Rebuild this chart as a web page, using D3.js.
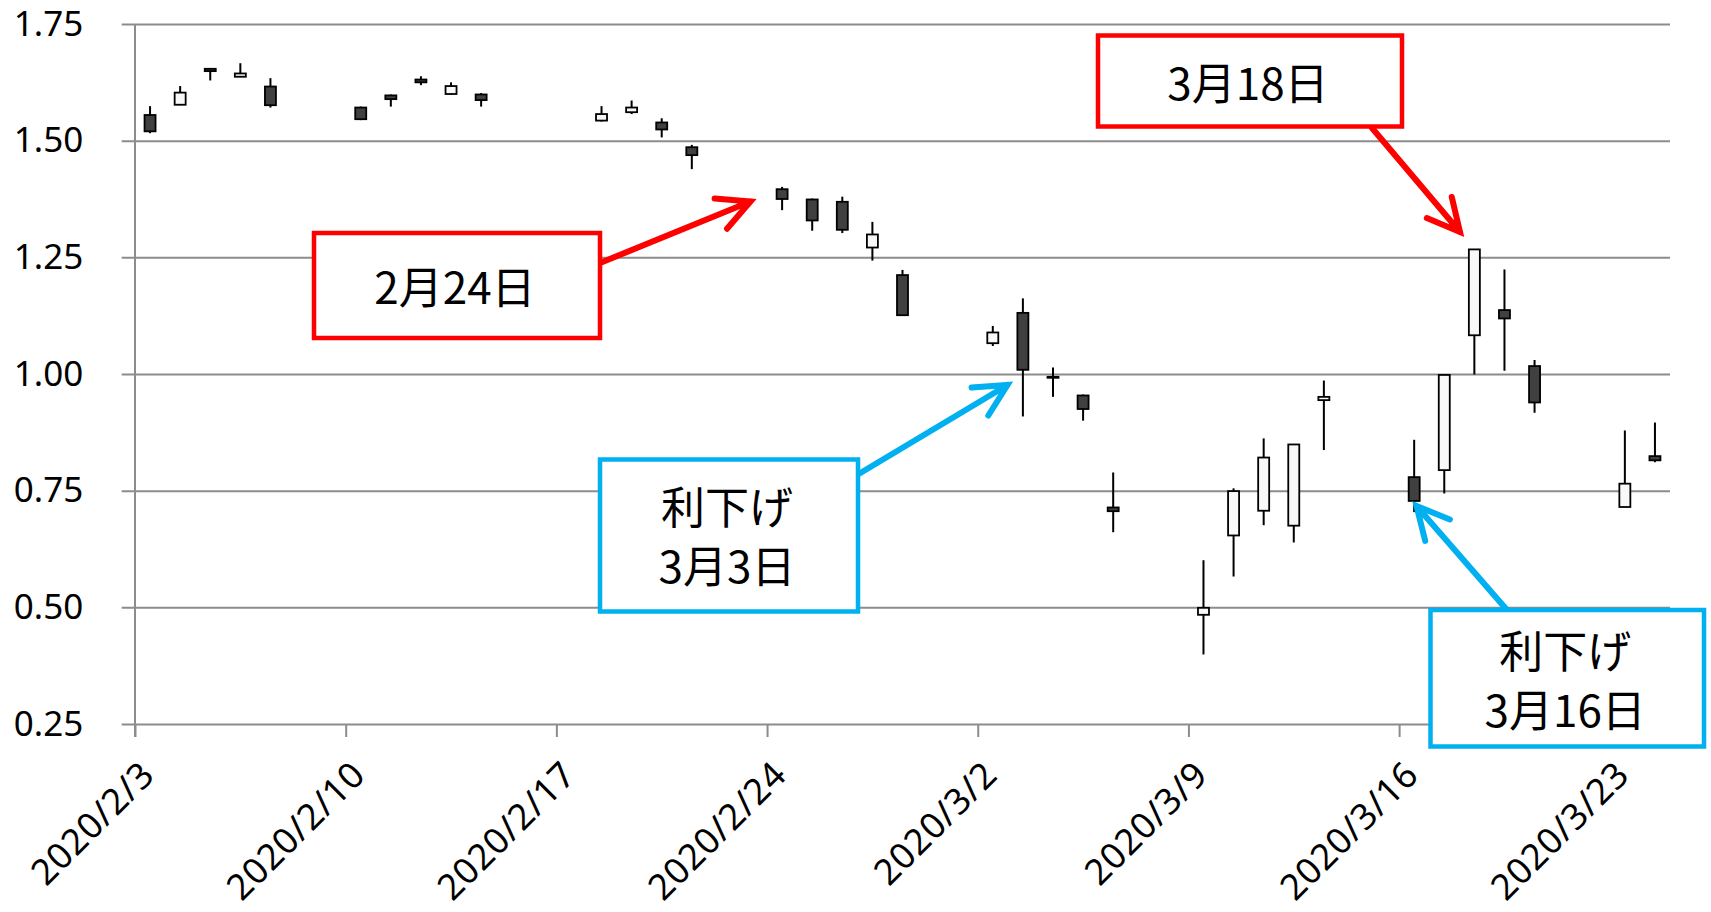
<!DOCTYPE html>
<html>
<head>
<meta charset="utf-8">
<script src="https://d3js.org/d3.v7.min.js"></script>
<style>
  html, body { margin: 0; padding: 0; background: #fff; }
  svg { display: block; }
</style>
</head>
<body>
<div id="chart"></div>
<script>
// trading days (UTC dates)
const dates = [
  "2020-02-03","2020-02-04","2020-02-05","2020-02-06","2020-02-07",
  "2020-02-10","2020-02-11","2020-02-12","2020-02-13","2020-02-14",
  "2020-02-18","2020-02-19","2020-02-20","2020-02-21",
  "2020-02-24","2020-02-25","2020-02-26","2020-02-27","2020-02-28",
  "2020-03-02","2020-03-03","2020-03-04","2020-03-05","2020-03-06",
  "2020-03-09","2020-03-10","2020-03-11","2020-03-12","2020-03-13",
  "2020-03-16","2020-03-17","2020-03-18","2020-03-19","2020-03-20",
  "2020-03-23","2020-03-24"
];
const opens = [
  1.555,1.577,1.654,1.637,1.616,
  1.571,1.597,1.631,1.600,1.599,
  1.543,1.561,1.539,1.486,
  1.396,1.374,1.369,1.271,1.212,
  1.066,1.131,0.994,0.954,0.714,
  0.484,0.654,0.707,0.675,0.944,
  0.779,0.794,1.083,1.137,1.017,
  0.715,0.824
];
const highs = [
  1.574,1.617,1.655,1.666,1.634,
  1.573,1.599,1.638,1.625,1.602,
  1.574,1.586,1.548,1.491,
  1.401,1.376,1.380,1.326,1.223,
  1.103,1.162,1.014,0.956,0.789,
  0.601,0.755,0.862,0.849,0.986,
  0.859,0.998,1.267,1.224,1.030,
  0.879,0.896
];
const lows = [
  1.516,1.576,1.629,1.636,1.571,
  1.544,1.573,1.619,1.599,1.573,
  1.541,1.557,1.507,1.439,
  1.351,1.307,1.302,1.243,1.126,
  1.060,0.909,0.951,0.900,0.661,
  0.399,0.566,0.676,0.639,0.837,
  0.704,0.744,0.999,1.007,0.917,
  0.715,0.811
];
const closes = [
  1.520,1.603,1.649,1.644,1.576,
  1.546,1.589,1.625,1.617,1.587,
  1.557,1.571,1.524,1.469,
  1.375,1.329,1.309,1.299,1.126,
  1.089,1.009,0.992,0.925,0.706,
  0.499,0.749,0.821,0.849,0.951,
  0.728,0.998,1.267,1.119,0.939,
  0.765,0.815
];

const yTicks = [0.25, 0.50, 0.75, 1.00, 1.25, 1.50, 1.75];
const xTickDates = ["2020-02-03","2020-02-10","2020-02-17","2020-02-24","2020-03-02","2020-03-09","2020-03-16","2020-03-23"];
const xDomain = ["2020-02-03","2020-03-25"];

// callout boxes and arrows (pixel layout)
const notes = [
  { lines: ["2月24日"], color: "#ff0000", box: [314, 233, 600, 338], base: 304,
    from: [600, 263], to: [750.5, 201.5] },
  { lines: ["3月18日"], color: "#ff0000", box: [1098, 35.5, 1402, 126.5], base: 100,
    from: [1372, 128], to: [1460, 232] },
  { lines: ["利下げ", "3月3日"], color: "#00b0f0", box: [600, 459.5, 858, 611.5], base: 524,
    from: [857, 475], to: [1007.5, 385] },
  { lines: ["利下げ", "3月16日"], color: "#00b0f0", box: [1430.5, 610, 1704, 746.5], base: 668,
    from: [1507, 610], to: [1416.5, 506] }
];

const parse = d3.utcParse("%Y-%m-%d");
const data = dates.map((d, i) => ({
  date: parse(d), open: opens[i], high: highs[i], low: lows[i], close: closes[i]
}));

const W = 1711, H = 912;
const plot = { left: 135, right: 1670, top: 24, bottom: 724 };

const svg = d3.select("#chart").append("svg")
  .attr("width", W).attr("height", H);

const x = d3.scaleUtc()
  .domain(xDomain.map(parse))
  .range([plot.left, plot.right]);
const y = d3.scaleLinear()
  .domain([0.25, 1.75])
  .range([plot.bottom, plot.top]);

const dayW = x(parse("2020-02-04")) - x(parse("2020-02-03"));
const cx = d => x(d.date) + dayW / 2;

const gridColor = "#8c8c8c";

// horizontal gridlines + y labels
const yAxis = svg.append("g")
  .attr("transform", `translate(${plot.left - 13.3},0)`)
  .call(d3.axisLeft(y)
    .tickValues(yTicks)
    .tickSize(-(plot.right - plot.left + 13.3))
    .tickPadding(38.5)
    .tickFormat(d3.format(".2f")));
yAxis.select(".domain").remove();
yAxis.selectAll(".tick line").attr("stroke", gridColor).attr("stroke-width", 2);
yAxis.selectAll(".tick text")
  .attr("fill", "#000")
  .style("font-family", "'Noto Sans', sans-serif")
  .style("font-size", "35px");

// vertical axis line
svg.append("line")
  .attr("x1", plot.left).attr("x2", plot.left)
  .attr("y1", plot.top).attr("y2", plot.bottom + 13)
  .attr("stroke", gridColor).attr("stroke-width", 2);

// x axis ticks + rotated labels
const fmt = d => `${d.getUTCFullYear()}/${d.getUTCMonth() + 1}/${d.getUTCDate()}`;
const xAxis = svg.append("g")
  .attr("transform", `translate(0,${plot.bottom})`)
  .call(d3.axisBottom(x)
    .tickValues(xTickDates.map(parse))
    .tickSize(13)
    .tickFormat(fmt));
xAxis.select(".domain").remove();
xAxis.selectAll(".tick line").attr("stroke", gridColor).attr("stroke-width", 2);
xAxis.selectAll(".tick text")
  .attr("x", 0).attr("y", 0).attr("dy", 0)
  .attr("text-anchor", "end")
  .attr("transform", "translate(21,53) rotate(-45)")
  .attr("fill", "#000")
  .style("font-family", "'Noto Sans', sans-serif")
  .style("font-size", "36px")
  .style("letter-spacing", "0.7px");

// candles
const candles = svg.append("g").attr("class", "candles");
candles.selectAll("line.wick")
  .data(data)
  .join("line")
  .attr("class", "wick")
  .attr("x1", cx).attr("x2", cx)
  .attr("y1", d => y(d.high))
  .attr("y2", d => y(d.low))
  .attr("stroke", "#000")
  .attr("stroke-width", 2);

const bodyW = 11;
candles.selectAll("rect.body")
  .data(data)
  .join("rect")
  .attr("class", "body")
  .attr("x", d => cx(d) - bodyW / 2)
  .attr("y", d => y(Math.max(d.open, d.close)))
  .attr("width", bodyW)
  .attr("height", d => Math.max(1, y(Math.min(d.open, d.close)) - y(Math.max(d.open, d.close))))
  .attr("fill", d => d.open > d.close ? "#404040" : "#f8f8f8")
  .attr("stroke", "#000")
  .attr("stroke-width", 1.8);

// callouts
const arrowPath = (from, to) => {
  const ang = Math.atan2(from[1] - to[1], from[0] - to[0]);
  const len = 36, spread = 27 * Math.PI / 180;
  const a1 = [to[0] + len * Math.cos(ang + spread), to[1] + len * Math.sin(ang + spread)];
  const a2 = [to[0] + len * Math.cos(ang - spread), to[1] + len * Math.sin(ang - spread)];
  return `M${from[0]},${from[1]}L${to[0]},${to[1]}M${a1[0]},${a1[1]}L${to[0]},${to[1]}L${a2[0]},${a2[1]}`;
};

const callouts = svg.append("g").attr("class", "callouts");
notes.forEach(n => {
  callouts.append("path")
    .attr("d", arrowPath(n.from, n.to))
    .attr("fill", "none")
    .attr("stroke", n.color)
    .attr("stroke-width", 6)
    .attr("stroke-linecap", "round")
    .attr("stroke-linejoin", "miter");
});
notes.forEach(n => {
  const [x0, y0, x1, y1] = n.box;
  callouts.append("rect")
    .attr("x", x0).attr("y", y0)
    .attr("width", x1 - x0).attr("height", y1 - y0)
    .attr("fill", "#fff")
    .attr("stroke", n.color)
    .attr("stroke-width", 4.5);
  const t = callouts.append("text")
    .attr("text-anchor", "middle")
    .attr("fill", "#000")
    .style("font-family", "'Noto Sans CJK JP', sans-serif")
    .style("font-size", "44px");
  n.lines.forEach((s, i) => {
    t.append("tspan")
      .attr("x", (x0 + x1) / 2 - 2)
      .attr("y", n.base + i * 59)
      .text(s);
  });
});
</script>
</body>
</html>
